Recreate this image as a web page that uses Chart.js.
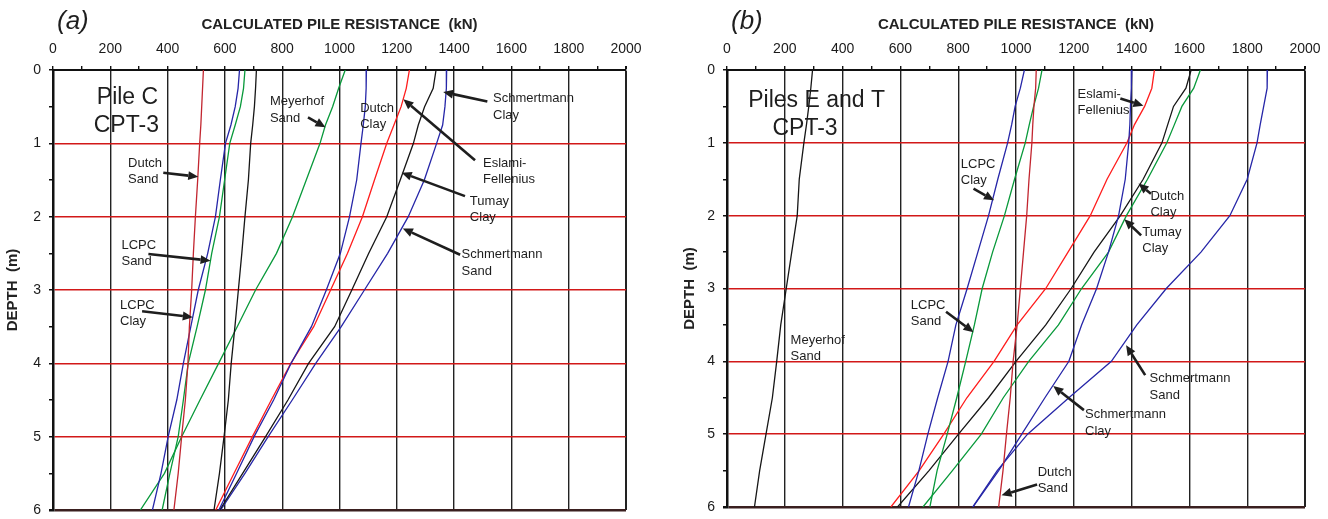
<!DOCTYPE html>
<html>
<head>
<meta charset="utf-8">
<script src="https://cdn.jsdelivr.net/npm/chart.js@4.4.1/dist/chart.umd.min.js"></script>
<style>
  html, body { margin: 0; padding: 0; background: #fff; }
  .row { display: flex; width: 1328px; height: 519px; }
  canvas { display: block; }
</style>
</head>
<body>
<div class="row">
  <canvas id="pileC" width="664" height="519"></canvas>
  <canvas id="pileET" width="664" height="519"></canvas>
</div>
<script>
// depth (m) at which every curve was read
const depths = [0, 0.25, 0.5, 0.75, 1, 1.5, 2, 2.5, 3, 3.5, 4, 4.5, 5, 5.5, 6];

// (a) Pile C, CPT-3 -- calculated resistance (kN)
const aDutchSand    = [525, 522, 519, 516, 512, 505, 497, 490, 484, 476, 471, 462, 449, 437, 422];
const aLcpcClay     = [651, 646, 636, 621, 602, 584, 567, 540, 507, 481, 455, 432, 402, 377, 347];
const aLcpcSand     = [670, 665, 654, 636, 617, 599, 581, 554, 532, 503, 472, 455, 437, 408, 381];
const aUnlabelled   = [710, 707, 703, 697, 690, 682, 670, 659, 647, 635, 622, 612, 597, 581, 562];
const aMeyerhofSand = [1020, 997, 976, 951, 932, 884, 836, 780, 707, 643, 578, 513, 449, 389, 305];
const aDutchClay    = [1094, 1093, 1090, 1083, 1075, 1060, 1035, 1003, 954, 902, 831, 770, 702, 641, 579];
const aEslami       = [1244, 1233, 1215, 1190, 1165, 1122, 1080, 1028, 969, 910, 830, 762, 696, 632, 568];
const aTumayClay    = [1337, 1327, 1297, 1275, 1258, 1212, 1165, 1102, 1043, 983, 892, 820, 742, 662, 582];
const aSchmertmann  = [1374, 1373, 1368, 1360, 1339, 1296, 1240, 1168, 1087, 1006, 917, 835, 751, 670, 585];

// (b) Piles E and T, CPT-3
const bMeyerhofSand    = [296, 290, 283, 275, 266, 250, 243, 224, 205, 186, 172, 157, 135, 113, 95];
const bLcpcClay        = [1029, 1015, 997, 985, 971, 937, 905, 868, 831, 792, 765, 729, 695, 664, 628];
const bDutchSand       = [1070, 1068, 1062, 1058, 1055, 1045, 1037, 1026, 1015, 1004, 990, 980, 967, 955, 940];
const bLcpcSand        = [1090, 1078, 1061, 1046, 1032, 995, 960, 919, 883, 856, 826, 795, 762, 727, 702];
const bSchmertmannClay = [1401, 1399, 1396, 1394, 1390, 1378, 1355, 1320, 1279, 1227, 1183, 1100, 1020, 940, 851];
const bEslami          = [1479, 1470, 1445, 1410, 1384, 1315, 1257, 1180, 1103, 1004, 924, 830, 750, 665, 567];
const bDutchClay       = [1606, 1588, 1545, 1525, 1505, 1440, 1361, 1270, 1191, 1103, 1000, 905, 801, 699, 590];
const bTumayClay       = [1638, 1615, 1574, 1548, 1522, 1455, 1382, 1320, 1227, 1147, 1044, 956, 880, 780, 678];
const bSchmertmannSand = [1870, 1869, 1857, 1845, 1834, 1800, 1740, 1640, 1520, 1418, 1330, 1183, 1040, 935, 850];

const FONT = "'Liberation Sans', Arial, sans-serif";
const RED = '#ff1c1c', DARKRED = '#c2252f', BLUE = '#2626a8', GREEN = '#08993a', BLACK = '#161616';

const toPoints = (vals) => depths.map((d, i) => ({ x: vals[i], y: d }));
const line = (label, vals, color) => ({
    label, data: toPoints(vals), borderColor: color, borderWidth: 1.3,
    pointRadius: 0, showLine: true, tension: 0, fill: false,
});

// callout text (kN, depth of first line) and arrows (tail -> head)
const notesA = [
    { text: ['Dutch', 'Sand'], at: [262, 1.27] },
    { text: ['LCPC', 'Sand'], at: [239, 2.39] },
    { text: ['LCPC', 'Clay'], at: [234, 3.21] },
    { text: ['Meyerhof', 'Sand'], at: [757, 0.43] },
    { text: ['Dutch', 'Clay'], at: [1072, 0.52] },
    { text: ['Schmertmann', 'Clay'], at: [1536, 0.39] },
    { text: ['Eslami-', 'Fellenius'], at: [1501, 1.27] },
    { text: ['Tumay', 'Clay'], at: [1455, 1.79] },
    { text: ['Schmertmann', 'Sand'], at: [1426, 2.52] },
];
const arrowsA = [
    [[385, 1.40], [507, 1.456]],
    [[333, 2.51], [550, 2.60]],
    [[311, 3.29], [488, 3.37]],
    [[890, 0.645], [951, 0.78]],
    [[1516, 0.43], [1362, 0.30]],
    [[1473, 1.23], [1223, 0.40]],
    [[1438, 1.72], [1217, 1.40]],
    [[1421, 2.52], [1221, 2.16]],
];
const notesB = [
    { text: ['Eslami-', 'Fellenius'], at: [1213, 0.33] },
    { text: ['Dutch', 'Clay'], at: [1465, 1.73] },
    { text: ['Tumay', 'Clay'], at: [1437, 2.23] },
    { text: ['LCPC', 'Clay'], at: [809, 1.29] },
    { text: ['LCPC', 'Sand'], at: [636, 3.23] },
    { text: ['Meyerhof', 'Sand'], at: [220, 3.71] },
    { text: ['Schmertmann', 'Sand'], at: [1462, 4.24] },
    { text: ['Schmertmann', 'Clay'], at: [1239, 4.73] },
    { text: ['Dutch', 'Sand'], at: [1075, 5.52] },
];
const arrowsB = [
    [[1361, 0.39], [1441, 0.49]],
    [[1467, 1.70], [1424, 1.56]],
    [[1433, 2.27], [1375, 2.05]],
    [[853, 1.63], [924, 1.79]],
    [[758, 3.32], [853, 3.60]],
    [[1447, 4.19], [1381, 3.78]],
    [[1235, 4.67], [1129, 4.34]],
    [[1073, 5.69], [950, 5.84]],
];

function drawArrow(ctx, x1, y1, x2, y2) {
    const ang = Math.atan2(y2 - y1, x2 - x1);
    const head = 10, half = 4.5;
    const bx = x2 - head * Math.cos(ang), by = y2 - head * Math.sin(ang);
    ctx.beginPath();
    ctx.moveTo(x1, y1);
    ctx.lineTo(bx, by);
    ctx.lineWidth = 2.6;
    ctx.stroke();
    ctx.beginPath();
    ctx.moveTo(x2, y2);
    ctx.lineTo(bx + half * Math.sin(ang), by - half * Math.cos(ang));
    ctx.lineTo(bx - half * Math.sin(ang), by + half * Math.cos(ang));
    ctx.closePath();
    ctx.fill();
}

const calloutPlugin = {
    id: 'callouts',
    afterDatasetsDraw(chart, args, opts) {
        const { ctx, chartArea } = chart;
        const sx = chart.scales.x, sy = chart.scales.y;
        ctx.save();
        ctx.fillStyle = '#1e1e1e';
        ctx.strokeStyle = '#1e1e1e';

        // big pile caption
        ctx.font = '23px ' + FONT;
        ctx.textAlign = 'center';
        ctx.textBaseline = 'middle';
        opts.caption.forEach((c) => {
            ctx.fillText(c.text, sx.getPixelForValue(c.at[0]), sy.getPixelForValue(c.at[1]));
        });

        ctx.font = '13px ' + FONT;
        ctx.textAlign = 'left';
        opts.notes.forEach((n) => {
            const px = sx.getPixelForValue(n.at[0]);
            const py = sy.getPixelForValue(n.at[1]);
            n.text.forEach((t, i) => ctx.fillText(t, px, py + i * 16.5));
        });
        opts.arrows.forEach(([a, b]) => {
            drawArrow(ctx, sx.getPixelForValue(a[0]), sy.getPixelForValue(a[1]),
                sx.getPixelForValue(b[0]), sy.getPixelForValue(b[1]));
        });

        // panel letter
        ctx.font = 'italic 26px ' + FONT;
        ctx.textAlign = 'left';
        ctx.fillText(opts.panel, chartArea.left + 4, 22);
        ctx.restore();
    }
};

function makeChart(id, datasets, extra) {
    const isInt = (v) => Math.abs(v - Math.round(v)) < 1e-6;
    return new Chart(document.getElementById(id), {
        type: 'scatter',
        data: { datasets },
        options: {
            responsive: false,
            animation: false,
            layout: { padding: { top: 0, left: 0, right: extra.right, bottom: extra.bottom } },
            plugins: {
                legend: { display: false },
                tooltip: { enabled: false },
                callouts: { notes: extra.notes, arrows: extra.arrows, caption: extra.caption, panel: extra.panel },
            },
            scales: {
                x: {
                    type: 'linear', position: 'top', min: 0, max: 2000,
                    afterFit: (s) => { s.height = 70; s.paddingLeft = 0; s.paddingRight = 0; },
                    ticks: {
                        stepSize: 100, autoSkip: false, maxRotation: 0, padding: 8,
                        color: '#1a1a1a', font: { family: FONT, size: 14 },
                        callback: (v) => (v % 200 === 0 ? v : ''),
                    },
                    grid: {
                        color: (c) => (c.tick && c.tick.value % 200 === 0 ? '#222' : 'rgba(0,0,0,0)'),
                        lineWidth: (c) => (c.tick && c.tick.value === 2000 ? 2 : 1.4),
                        tickColor: '#111', tickLength: 4, drawTicks: true,
                    },
                    border: { color: '#111', width: 2 },
                    title: {
                        display: true, text: 'CALCULATED PILE RESISTANCE  (kN)', color: '#222',
                        font: { family: FONT, size: 15, weight: 'bold' }, padding: { top: 16, bottom: 0 },
                    },
                },
                y: {
                    type: 'linear', reverse: true, min: 0, max: 6,
                    afterFit: (s) => { s.width = extra.yWidth; s.paddingTop = 0; s.paddingBottom = 0; },
                    ticks: {
                        stepSize: 0.5, padding: 8, color: '#1a1a1a', font: { family: FONT, size: 14 },
                        callback: (v) => (isInt(v) ? Math.round(v) : ''),
                    },
                    grid: {
                        color: (c) => {
                            const v = c.tick ? c.tick.value : 0;
                            if (!isInt(v) || v === 0) return 'rgba(0,0,0,0)';
                            return v === 6 ? '#3a1f1f' : '#d21818';
                        },
                        lineWidth: (c) => (c.tick && c.tick.value === 6 ? 2.5 : 1.5),
                        tickColor: '#111', tickLength: 4, drawTicks: true,
                    },
                    border: { color: '#111', width: 2.5 },
                    title: {
                        display: true, text: 'DEPTH  (m)', color: '#222',
                        font: { family: FONT, size: 15, weight: 'bold' }, padding: { top: extra.yTitlePad, bottom: 0 },
                    },
                },
            },
        },
        plugins: [calloutPlugin],
    });
}

makeChart('pileC', [
    line('Dutch Sand', aDutchSand, DARKRED),
    line('LCPC Clay', aLcpcClay, BLUE),
    line('LCPC Sand', aLcpcSand, GREEN),
    line('Unlabelled', aUnlabelled, BLACK),
    line('Meyerhof Sand', aMeyerhofSand, GREEN),
    line('Dutch Clay', aDutchClay, BLUE),
    line('Eslami-Fellenius', aEslami, RED),
    line('Tumay Clay', aTumayClay, BLACK),
    line('Schmertmann', aSchmertmann, BLUE),
], {
    right: 38, bottom: 9, yWidth: 53, yTitlePad: 4, panel: '(a)',
    notes: notesA, arrows: arrowsA,
    caption: [{ text: 'Pile C', at: [260, 0.375] }, { text: 'CPT-3', at: [256, 0.765] }],
});

makeChart('pileET', [
    line('Meyerhof Sand', bMeyerhofSand, BLACK),
    line('LCPC Clay', bLcpcClay, BLUE),
    line('Dutch Sand', bDutchSand, DARKRED),
    line('LCPC Sand', bLcpcSand, GREEN),
    line('Schmertmann Clay', bSchmertmannClay, BLUE),
    line('Eslami-Fellenius', bEslami, RED),
    line('Dutch Clay', bDutchClay, BLACK),
    line('Tumay Clay', bTumayClay, GREEN),
    line('Schmertmann Sand', bSchmertmannSand, BLUE),
], {
    right: 23, bottom: 12, yWidth: 63, yTitlePad: 17, panel: '(b)',
    notes: notesB, arrows: arrowsB,
    caption: [{ text: 'Piles E and T', at: [310, 0.426] }, { text: 'CPT-3', at: [270, 0.81] }],
});
</script>
</body>
</html>
